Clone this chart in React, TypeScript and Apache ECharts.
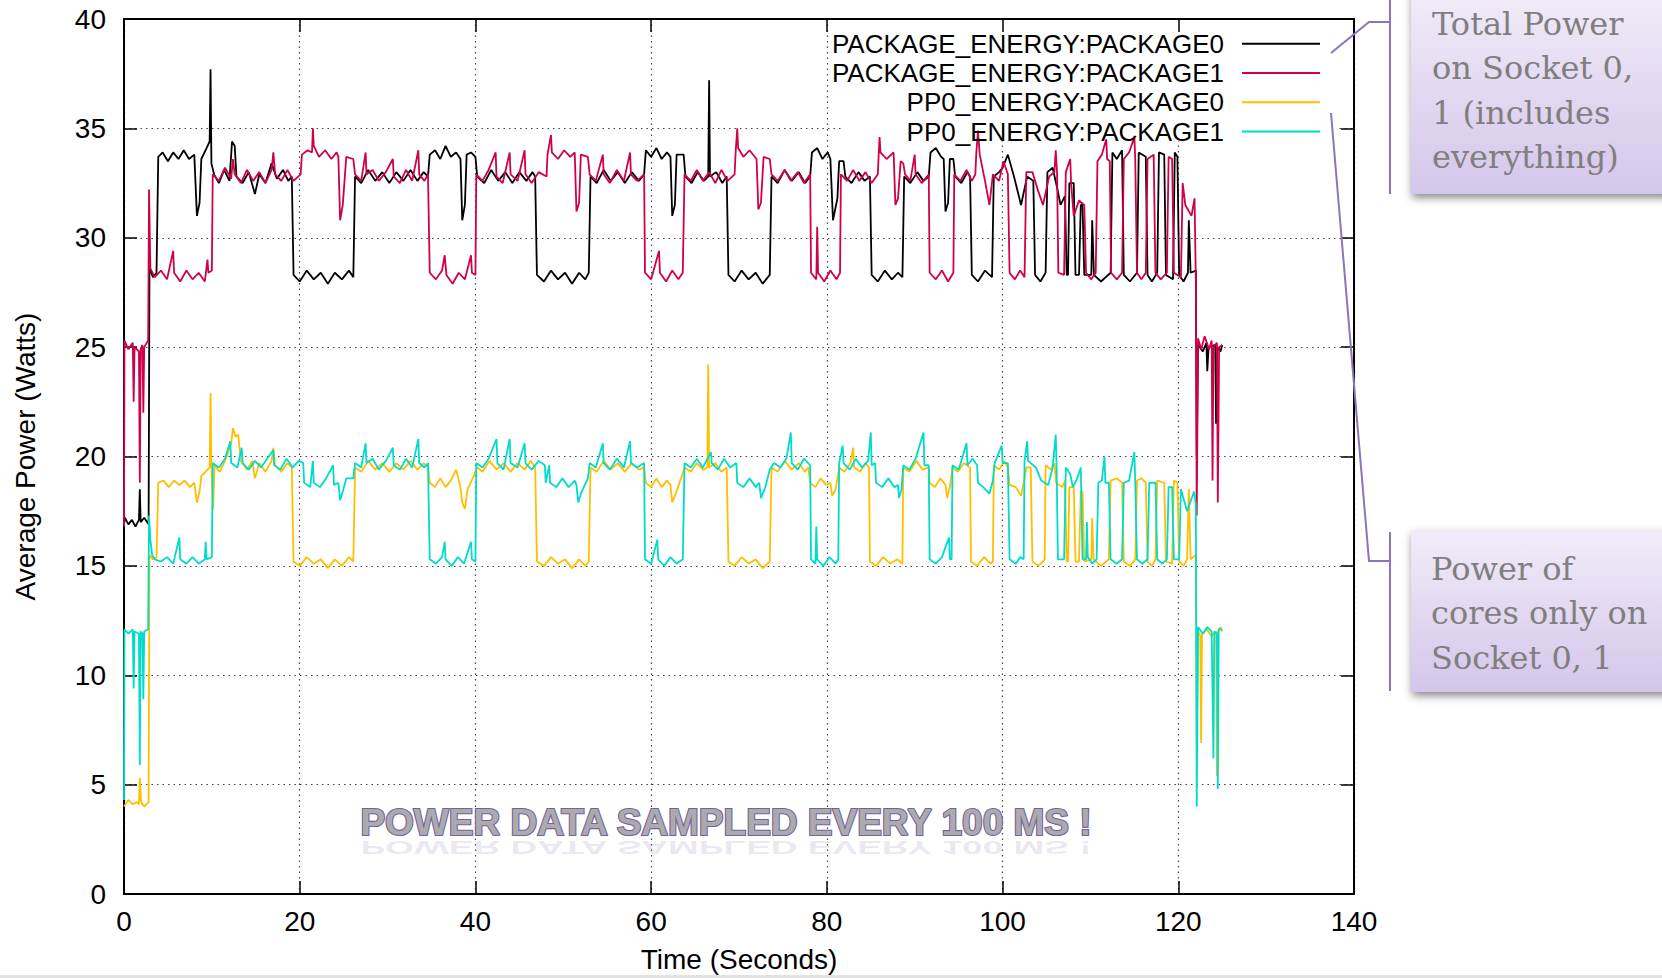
import React, { useEffect, useRef } from "react";
import * as echarts from "echarts";

// ---------------- DATA ----------------
const SERIES_NAMES = [
  "PACKAGE_ENERGY:PACKAGE0",
  "PACKAGE_ENERGY:PACKAGE1",
  "PP0_ENERGY:PACKAGE0",
  "PP0_ENERGY:PACKAGE1",
];
const SERIES_COLORS = ["#000000", "#d0004a", "#ffbf00", "#00dccb"];

const X_AXIS = { min: 0, max: 140, interval: 20 };
const Y_AXIS = { min: 0, max: 40, interval: 5 };

// [time (s), power (W)]
const packageEnergy0: number[][] = [
  [0,16.9],[0.1,17.2],[0.5,16.9],[0.9,17.1],[1.3,16.8],[1.7,17.1],[1.8,18.5],[1.9,17.0],[2.3,17.2],[2.8,16.9],
  [2.9,28.6],[3.3,28.2],[3.7,28.4],
  [3.9,33.7],[4.4,33.9],[5.0,33.5],[5.6,33.9],[6.2,33.6],[6.8,34.0],[7.4,33.6],[8.0,33.8],
  [8.3,31.0],[8.6,31.6],[8.8,33.6],[9.4,34.1],[9.75,34.4],[9.85,37.7],[9.95,33.4],
  [10.25,32.9],[10.8,32.5],[11.4,33.1],[12.0,32.6],[12.3,34.4],[12.6,34.2],[12.8,32.8],[13.5,32.5],[14.2,33.0],[14.9,32.0],[15.4,32.9],[16.1,32.5],[16.8,33.4],[17.4,32.7],[18.1,33.1],[18.7,32.6],[19.1,32.8],
  [19.3,28.3],[20.0,28.0],[20.8,28.5],[21.6,28.1],[22.4,28.4],[23.2,27.9],[24.0,28.4],[24.8,28.1],[25.6,28.5],[26.1,28.2],
  [26.3,32.8],[27.0,32.5],[27.8,33.1],[28.6,32.6],[29.4,33.0],[30.2,32.5],[31.0,33.0],[31.8,32.6],[32.6,33.1],[33.4,32.6],[34.1,33.0],[34.6,32.8],
  [34.8,33.8],[35.4,34.0],[36.0,33.6],[36.6,34.2],[37.2,33.7],[37.8,33.9],[38.3,33.6],
  [38.5,30.8],[38.8,31.5],[39.0,33.8],[39.5,33.9],[40.0,33.7],
  [40.2,32.8],[41.0,32.5],[41.8,33.1],[42.6,32.6],[43.4,33.0],[44.2,32.5],[45.0,33.0],[45.8,32.6],[46.5,33.0],[46.8,32.8],
  [47.0,28.3],[47.8,28.0],[48.6,28.5],[49.4,28.1],[50.2,28.4],[51.0,27.9],[51.8,28.4],[52.5,28.1],[52.9,28.4],
  [53.1,32.8],[53.8,32.5],[54.6,33.1],[55.4,32.6],[56.2,33.0],[57.0,32.5],[57.8,33.0],[58.6,32.6],[59.2,32.9],
  [59.4,34.0],[60.0,33.7],[60.6,34.1],[61.2,33.6],[61.8,33.9],[62.2,33.7],
  [62.4,31.0],[62.7,31.5],[62.9,33.8],[63.7,33.8],
  [63.9,32.8],[64.6,32.5],[65.3,33.0],[66.0,32.6],[66.5,32.8],[66.6,37.2],[66.7,32.8],[67.4,33.0],[68.1,32.5],[68.6,32.8],
  [68.8,28.3],[69.5,28.0],[70.3,28.5],[71.1,28.1],[71.9,28.4],[72.7,27.9],[73.5,28.3],
  [73.7,32.8],[74.4,32.5],[75.2,33.1],[76.0,32.6],[76.8,33.0],[77.5,32.5],[78.1,32.8],
  [78.3,33.9],[78.9,34.1],[79.5,33.6],[80.1,33.9],[80.4,33.6],
  [80.7,30.8],[81.2,31.8],[81.4,33.5],[81.9,33.5],
  [82.1,32.8],[82.8,32.5],[83.6,33.0],[84.3,32.6],[84.9,32.8],
  [85.1,28.3],[85.8,28.0],[86.6,28.5],[87.4,28.1],[88.1,28.4],[88.6,28.2],
  [88.8,32.8],[89.5,32.5],[90.3,33.0],[91.0,32.6],[91.6,32.8],
  [91.8,33.9],[92.4,34.1],[93.0,33.7],[93.3,33.6],
  [93.5,31.2],[93.8,31.6],[94.0,33.6],[94.4,33.6],
  [94.6,32.8],[95.3,32.5],[96.0,33.0],[96.3,32.8],
  [96.5,28.3],[97.2,28.0],[98.0,28.5],[98.8,28.2],
  [99.0,32.8],[99.6,33.0],[100.0,33.2],[100.6,33.8],[101.3,32.8],[102.1,31.5],[102.8,32.8],[103.5,32.6],
  [103.7,28.3],[104.3,28.0],[104.9,28.4],
  [105.1,33.0],[105.7,33.2],[106.2,32.3],[106.6,31.5],[107.1,31.9],
  [107.3,28.3],[107.45,28.3],
  [107.6,32.5],[108.1,32.5],
  [108.3,28.3],[108.7,28.3],
  [108.9,31.5],[109.1,31.5],
  [109.3,28.3],[110.1,28.3],[110.2,30.8],[110.4,28.3],[111.2,28.0],[112.3,28.4],
  [112.5,33.9],[113.0,33.6],[113.6,34.0],
  [113.8,28.3],[114.5,28.0],[115.3,28.4],
  [115.5,33.9],[116.3,33.7],
  [116.5,28.3],[117.0,28.0],[117.6,28.4],
  [117.8,33.9],[118.4,33.8],
  [118.6,28.3],[119.4,28.1],
  [119.6,33.9],[119.9,33.7],
  [120.1,28.3],[120.6,28.0],[121.1,28.4],[121.2,30.8],[121.4,28.4],[122.0,28.5],
  [122.1,20.0],[122.25,25.1],[122.8,24.8],[123.2,25.2],[123.3,23.9],[123.45,25.0],[124.2,25.1],[124.3,21.5],[124.45,25.0],[124.8,24.8],[125.0,25.1],
];

const packageEnergy1: number[][] = [
  [0,16.8],[0.05,25.3],[0.5,24.9],[1.0,25.2],[1.1,22.5],[1.2,25.0],[1.7,24.8],[1.8,18.8],[1.9,24.9],[2.1,25.1],[2.2,22.0],[2.3,25.0],[2.75,25.3],
  [2.85,32.2],[3.0,28.6],[3.5,28.2],[4.2,28.5],[4.9,28.1],[5.6,29.4],[5.7,28.4],[6.4,28.0],[7.1,28.5],[7.8,28.1],[8.5,28.4],[9.2,28.0],[9.5,29.0],[9.6,28.4],[10.0,28.5],
  [10.1,32.9],[10.8,32.6],[11.5,33.2],[12.2,32.7],[12.4,33.6],[12.6,32.9],[13.3,32.5],[14.0,33.1],[14.7,32.6],[15.4,33.0],[16.1,32.5],[16.8,33.1],[17.0,33.9],[17.2,32.9],[17.9,32.6],[18.6,33.1],[19.3,32.6],[20.1,32.9],
  [20.25,33.8],[20.9,34.0],[21.4,33.9],[21.5,35.0],[21.6,34.2],[22.2,33.7],[22.9,34.0],[23.6,33.6],[24.2,33.9],[24.4,33.7],
  [24.6,30.8],[24.9,31.5],[25.3,33.7],[26.1,33.6],
  [26.3,32.9],[27.0,32.6],[27.5,33.9],[27.6,32.9],[28.3,33.1],[29.0,32.6],[29.8,33.0],[30.6,33.6],[30.7,32.8],[31.4,32.5],[32.1,33.1],[32.8,32.6],[33.5,34.0],[33.6,32.9],[34.2,32.6],[34.6,32.9],
  [34.8,28.4],[35.5,28.1],[36.2,28.5],[36.5,29.2],[36.7,28.3],[37.4,27.9],[38.1,28.4],[38.8,28.1],[39.5,29.2],[39.6,28.4],[40.0,28.3],
  [40.1,32.9],[40.8,32.6],[41.5,33.1],[42.3,33.9],[42.4,32.8],[43.1,32.5],[43.9,33.9],[44.0,32.9],[44.8,32.6],[45.6,34.0],[45.7,32.9],[46.4,32.5],[47.2,33.0],[48.1,32.8],
  [48.2,33.8],[48.6,34.7],[48.7,33.9],[49.4,33.6],[50.1,34.0],[50.8,33.7],[51.3,33.9],
  [51.5,31.2],[51.8,31.6],[52.0,33.8],[52.8,33.7],
  [53.0,32.9],[53.7,32.6],[54.5,33.8],[54.6,32.9],[55.3,32.5],[56.1,33.1],[56.9,32.6],[57.6,33.9],[57.7,32.9],[58.4,32.6],[59.2,32.9],
  [59.3,28.4],[60.0,28.1],[60.9,29.4],[61.0,28.4],[61.7,28.0],[62.4,28.5],[63.1,28.1],[63.6,28.4],
  [63.8,32.9],[64.5,32.6],[65.2,33.1],[65.9,32.6],[66.6,33.0],[67.3,32.5],[68.0,33.1],[68.7,32.6],[69.5,32.9],
  [69.6,33.8],[69.8,35.0],[69.9,34.1],[70.5,33.7],[71.2,34.0],[72.0,33.6],
  [72.2,31.3],[72.5,31.6],[72.8,33.7],[73.5,33.6],
  [73.7,32.9],[74.4,32.6],[75.2,33.1],[75.9,32.6],[76.7,33.0],[77.4,32.5],[78.1,32.9],
  [78.2,28.4],[78.8,28.1],[78.9,30.5],[79.0,28.4],[79.7,28.0],[80.4,28.5],[81.1,28.1],[81.5,28.4],
  [81.6,32.9],[82.3,32.6],[83.0,33.1],[83.7,32.6],[84.4,33.0],[85.1,32.5],[85.8,32.9],
  [85.9,33.8],[86.0,34.6],[86.1,33.9],[86.8,33.6],[87.6,33.9],
  [87.8,31.5],[88.1,31.8],[88.4,33.5],[88.7,33.4],
  [88.9,32.9],[89.5,32.6],[90.0,33.8],[90.1,32.9],[90.8,32.5],[91.6,32.9],
  [91.7,28.4],[92.4,28.1],[93.1,28.5],[93.8,28.0],[94.4,28.4],
  [94.5,32.9],[95.2,32.6],[95.9,33.1],[96.5,32.6],[96.9,32.9],
  [97.0,33.8],[97.2,34.9],[97.4,33.8],[98.0,32.6],[98.5,31.5],[98.9,32.9],[99.6,32.6],[100.1,33.5],[100.6,32.9],
  [100.8,28.4],[101.4,28.1],[102.0,28.5],[102.5,28.2],
  [102.7,33.0],[103.4,33.0],[104.0,32.2],[104.6,31.5],[105.3,32.8],[105.9,33.0],[106.05,34.0],[106.2,33.0],
  [106.35,28.4],[107.0,28.3],
  [107.2,33.0],[107.7,33.6],[107.8,32.5],[108.1,31.0],[108.7,31.7],[109.3,31.5],
  [109.5,28.4],[110.1,28.1],[110.6,28.4],
  [110.8,33.5],[111.3,33.8],[111.8,34.5],[111.9,33.6],[112.2,33.5],
  [112.35,28.4],[113.0,28.1],[113.6,28.4],
  [113.8,33.6],[114.4,33.9],[115.0,34.6],[115.1,33.6],
  [115.3,28.4],[115.8,28.1],[116.3,28.4],
  [116.5,33.6],[117.2,33.8],
  [117.4,28.4],[118.0,28.1],[118.7,28.4],
  [118.9,33.7],[119.3,33.6],
  [119.5,28.4],[120.3,28.2],
  [120.5,32.5],[120.8,31.5],[121.5,31.0],[121.85,31.8],[122.0,28.0],
  [122.1,17.3],[122.25,25.4],[122.6,24.9],[123.0,25.5],[123.5,24.9],[123.8,25.3],[123.9,18.9],[124.0,25.0],[124.4,25.2],[124.5,17.9],[124.65,25.0],[125.0,25.1],
];

const pp0Energy0: number[][] = [
  [0,4.0],[0.5,4.3],[1.0,4.1],[1.5,4.2],[1.7,4.1],[1.8,5.3],[1.95,4.2],[2.3,4.0],[2.8,4.2],
  [2.9,15.5],[3.3,15.3],[3.7,15.4],
  [3.9,18.8],[4.5,18.9],[5.1,18.6],[5.7,18.9],[6.3,18.7],[6.9,18.9],[7.5,18.6],[8.0,18.8],
  [8.3,17.9],[8.6,18.4],[8.8,19.1],[9.5,19.4],[9.75,19.5],[9.85,22.9],[9.95,19.5],[10.15,17.6],
  [10.3,19.6],[10.9,19.3],[11.5,19.8],[12.2,20.6],[12.4,21.3],[12.7,20.9],[13.0,21.0],[13.3,19.8],[14.0,19.4],[14.6,19.8],[14.9,19.0],[15.4,19.7],[16.1,19.3],[16.8,19.8],[17.0,20.4],[17.2,19.6],[17.9,19.3],[18.6,19.7],[19.1,19.5],
  [19.3,15.2],[20.0,15.0],[20.8,15.4],[21.6,15.1],[22.4,15.3],[23.2,14.9],[24.0,15.3],[24.8,15.0],[25.6,15.4],[26.1,15.2],
  [26.3,19.5],[27.0,19.3],[27.8,19.8],[28.6,19.4],[29.4,19.7],[30.2,19.3],[31.0,19.7],[31.8,19.4],[32.6,19.8],[33.4,19.4],[34.1,19.7],[34.6,19.5],
  [34.8,18.8],[35.4,18.6],[36.0,19.0],[36.6,18.6],[37.2,18.9],[37.8,19.4],[38.3,18.6],
  [38.5,17.9],[38.8,17.6],[39.1,18.5],[39.8,19.1],[40.2,19.5],
  [40.8,19.3],[41.6,19.8],[42.4,19.4],[43.2,19.7],[44.0,19.3],[44.8,19.7],[45.6,19.4],[46.3,19.8],[46.8,19.5],
  [47.0,15.2],[47.8,15.0],[48.6,15.4],[49.4,15.1],[50.2,15.3],[51.0,14.9],[51.8,15.3],[52.5,15.0],[52.9,15.2],
  [53.1,19.5],[53.8,19.3],[54.6,19.8],[55.4,19.4],[56.2,19.7],[57.0,19.3],[57.8,19.7],[58.6,19.4],[59.2,19.5],
  [59.4,18.8],[60.0,18.6],[60.6,19.0],[61.2,18.6],[61.8,18.9],[62.2,18.7],
  [62.4,17.9],[62.8,18.3],[63.4,19.0],[63.8,19.5],
  [64.5,19.3],[65.2,19.7],[65.9,19.4],[66.4,19.5],[66.5,24.2],[66.6,19.5],[67.3,19.7],[68.0,19.3],[68.6,19.5],
  [68.8,15.2],[69.5,15.0],[70.3,15.4],[71.1,15.1],[71.9,15.3],[72.7,14.9],[73.5,15.2],
  [73.7,19.5],[74.4,19.3],[75.2,19.8],[76.0,19.4],[76.8,19.7],[77.5,19.3],[77.9,19.5],
  [78.1,18.8],[78.7,18.6],[79.3,19.0],[79.9,18.7],[80.4,18.8],
  [80.6,18.2],[81.0,18.5],[81.4,19.5],[82.0,19.3],[82.7,19.7],[83.0,20.4],[83.1,19.5],[83.8,19.3],[84.4,19.7],[84.8,19.5],
  [84.9,15.2],[85.6,15.0],[86.4,15.4],[87.2,15.1],[88.0,15.3],[88.6,15.1],
  [88.7,19.5],[89.4,19.3],[90.2,19.8],[90.9,19.4],[91.6,19.5],
  [91.7,18.8],[92.3,18.6],[92.9,19.0],[93.5,18.7],
  [93.7,18.1],[94.0,18.6],[94.3,19.5],[94.9,19.3],[95.6,19.7],[96.3,19.5],
  [96.4,15.2],[97.1,15.0],[97.9,15.4],[98.6,15.1],[98.9,15.2],
  [99.0,19.6],[99.6,19.4],[100.2,19.8],[100.6,19.5],
  [100.8,18.7],[101.5,18.6],[102.1,18.2],[102.5,19.0],[102.7,19.5],[103.2,19.5],
  [103.4,15.2],[104.1,15.0],[104.8,15.3],
  [104.9,19.6],[105.5,19.4],[105.9,19.7],
  [106.1,18.8],[106.8,18.6],[107.1,18.9],
  [107.3,15.2],[107.45,15.2],
  [107.6,18.6],[108.1,18.6],
  [108.3,15.2],[108.7,15.2],
  [108.9,18.4],[109.1,18.4],
  [109.3,15.2],[110.1,15.3],[110.2,17.2],[110.35,15.3],[111.2,15.0],[112.1,15.3],
  [112.3,18.9],[113.0,19.0],[113.6,18.8],
  [113.8,15.2],[114.5,15.0],[115.1,15.3],
  [115.3,18.9],[115.8,19.0],[116.3,18.8],
  [116.5,15.2],[117.0,15.0],[117.4,15.3],
  [117.6,18.9],[118.4,18.8],
  [118.6,15.2],[119.3,15.1],
  [119.5,18.9],[119.9,18.8],
  [120.1,15.2],[120.6,15.0],[121.0,15.3],[121.2,18.5],[121.4,15.3],[122.0,15.5],
  [122.1,7.0],[122.25,12.0],[122.5,11.8],[122.6,6.9],[122.7,11.9],[123.2,12.1],[123.8,11.8],[124.3,12.0],[124.4,5.4],[124.5,12.0],[124.8,12.2],[125.0,12.0],
];

const pp0Energy1: number[][] = [
  [0,4.3],[0.05,12.1],[0.5,11.9],[1.0,12.1],[1.1,9.4],[1.2,12.0],[1.7,11.9],[1.8,5.9],[1.9,12.0],[2.1,11.9],[2.2,8.9],[2.3,12.0],[2.75,12.1],
  [2.85,17.3],[3.0,16.2],[3.2,15.5],[3.5,15.3],[4.2,15.2],[4.9,15.4],[5.6,15.1],[6.3,16.3],[6.4,15.3],[7.1,15.1],[7.8,15.4],[8.5,15.1],[9.2,15.3],[9.3,16.1],[9.4,15.3],[10.0,15.4],
  [10.1,19.7],[10.8,19.5],[11.5,19.9],[12.1,20.7],[12.2,19.7],[12.9,19.5],[13.4,20.4],[13.5,19.7],[14.2,19.4],[14.9,19.8],[15.6,19.5],[16.3,19.9],[17.0,20.3],[17.1,19.6],[17.8,19.4],[18.5,19.9],[19.2,19.5],[19.9,19.8],[20.4,19.7],
  [20.5,18.8],[21.2,18.6],[21.5,19.8],[21.6,18.8],[22.3,18.6],[23.0,19.0],[23.8,19.6],[23.9,18.7],[24.4,18.8],
  [24.6,18.0],[24.9,18.4],[25.3,19.0],[26.1,19.0],
  [26.3,19.7],[27.0,19.5],[27.5,20.6],[27.6,19.7],[28.3,19.9],[29.0,19.4],[29.8,19.8],[30.6,20.4],[30.7,19.6],[31.4,19.4],[32.1,19.9],[32.8,19.5],[33.5,20.8],[33.6,19.7],[34.2,19.5],[34.6,19.7],
  [34.8,15.3],[35.5,15.1],[36.2,15.4],[36.5,16.1],[36.6,15.3],[37.3,15.0],[38.0,15.4],[38.7,15.1],[39.5,16.1],[39.6,15.3],[40.0,15.2],
  [40.1,19.7],[40.8,19.5],[41.5,19.9],[42.4,20.8],[42.5,19.7],[43.2,19.4],[43.9,20.8],[44.0,19.7],[44.8,19.5],[45.6,20.6],[45.7,19.7],[46.4,19.4],[47.2,19.8],[47.9,19.6],
  [48.0,18.8],[48.4,19.6],[48.5,18.8],[49.2,18.6],[49.9,19.0],[50.6,18.6],[51.3,18.9],[51.5,18.7],
  [51.7,17.9],[52.0,18.3],[52.8,19.0],
  [53.0,19.7],[53.7,19.5],[54.5,20.6],[54.6,19.7],[55.3,19.4],[56.1,19.9],[56.9,19.5],[57.6,20.7],[57.7,19.7],[58.4,19.5],[59.2,19.7],
  [59.3,15.3],[60.0,15.1],[60.7,16.2],[60.8,15.3],[61.5,15.0],[62.2,15.4],[62.9,15.1],[63.6,15.3],
  [63.8,19.7],[64.5,19.5],[65.2,19.9],[65.9,19.5],[66.8,20.2],[66.9,19.7],[67.6,19.4],[68.3,19.9],[69.0,19.5],[69.7,19.7],
  [69.8,18.8],[70.5,18.6],[71.2,19.0],[71.9,18.6],[72.3,18.8],
  [72.5,18.1],[73.0,18.6],[73.5,19.4],[74.0,19.7],[74.7,19.5],[75.4,19.9],[75.9,21.1],[76.0,19.7],[76.7,19.4],[77.4,19.9],[78.1,19.6],
  [78.2,15.3],[78.7,15.1],[78.8,16.8],[78.9,15.3],[79.6,15.0],[80.3,15.4],[81.0,15.1],[81.3,15.3],
  [81.4,19.7],[81.8,20.5],[81.9,19.7],[82.6,19.4],[83.3,19.9],[84.0,19.5],[84.7,19.8],[85.0,21.1],[85.1,19.6],[85.5,19.7],
  [85.6,18.8],[86.3,18.6],[87.0,19.0],[87.7,18.6],[88.1,18.7],
  [88.2,18.1],[88.5,18.5],[88.7,19.6],[89.4,19.4],[90.1,19.9],[91.0,21.1],[91.1,19.6],[91.6,19.6],
  [91.7,15.3],[92.4,15.1],[93.1,15.4],[93.9,16.3],[94.0,15.3],[94.2,15.3],
  [94.3,19.6],[95.0,19.4],[95.9,20.6],[96.0,19.6],[96.6,19.9],[97.1,19.6],
  [97.2,18.8],[97.8,18.6],[98.5,18.3],[98.9,18.9],[99.1,19.7],[99.9,20.5],[100.0,19.7],[100.6,19.7],
  [100.8,15.3],[101.5,15.1],[102.0,15.4],[102.4,15.3],
  [102.5,19.8],[102.8,20.7],[102.9,19.8],[103.8,19.5],[104.4,18.9],[105.2,18.7],[105.7,19.5],[106.05,21.0],[106.15,19.5],
  [106.3,15.3],[107.0,15.3],
  [107.2,19.5],[107.7,19.2],[108.0,18.6],[108.5,19.0],[108.9,19.5],
  [109.1,15.3],[109.5,15.3],[109.6,17.0],[109.7,15.4],[110.2,15.1],[110.7,15.3],
  [110.9,18.8],[111.3,18.9],[111.6,20.0],[111.7,18.8],[112.1,18.8],
  [112.3,15.3],[113.0,15.1],[113.6,15.3],
  [113.8,18.8],[114.4,18.9],[115.0,20.2],[115.1,18.8],
  [115.3,15.3],[115.9,15.1],[116.5,15.3],
  [116.7,18.8],[117.4,18.8],
  [117.6,15.3],[118.2,15.1],[118.7,15.3],
  [118.9,18.6],[119.3,18.6],
  [119.5,15.3],[120.1,15.3],
  [120.3,18.5],[121.0,17.5],[121.8,18.4],[122.0,17.8],
  [122.1,4.0],[122.25,12.2],[122.8,11.9],[123.3,12.2],[123.8,12.0],[124.0,6.2],[124.1,12.0],[124.4,11.9],[124.5,4.8],[124.6,12.1],[125.0,12.1],
];

const SERIES_DATA = [packageEnergy0, packageEnergy1, pp0Energy0, pp0Energy1];

const X_NAME = "Time (Seconds)";
const Y_NAME = "Average Power (Watts)";
const CALLOUT_TOP = "Total Power\non Socket 0,\n1 (includes\neverything)";
const CALLOUT_BOTTOM = "Power of\ncores only on\nSocket 0, 1";
const WATERMARK = "POWER DATA SAMPLED EVERY 100 MS !";

// ---------------- LAYOUT ----------------
const SANS = '"Liberation Sans", Arial, Helvetica, sans-serif';
const SERIF = '"DejaVu Serif", "Liberation Serif", serif';
const FONT_SIZE = 28;
const LEGEND_FONT_SIZE = 26;
const LEGEND_ROWS = [42.7, 72.0, 101.3, 130.6];
const CALLOUT_PURPLE = "#8b74b9";

function boxFill() {
  return new echarts.graphic.LinearGradient(0, 0, 0, 1, [
    { offset: 0, color: "#f1ecf9" },
    { offset: 1, color: "#d4c6ea" },
  ]);
}

function buildOption(): any {
  const mirrorAxisCommon = {
    type: "value",
    axisLine: { show: true, onZero: false, lineStyle: { color: "#000", width: 2 } },
    axisTick: { show: true, inside: true, length: 13, lineStyle: { color: "#000", width: 1.5 } },
    axisLabel: { show: false },
    splitLine: { show: false },
    z: 3,
  };
  const gridLine = { show: true, lineStyle: { color: "#444", width: 1.2, type: [1.5, 4] } };
  const labelStyle = { fontSize: FONT_SIZE, fontFamily: SANS, color: "#000" };

  return {
    animation: false,
    backgroundColor: "#ffffff",
    grid: { left: 124, right: 308, top: 19, bottom: 84, containLabel: false },
    xAxis: [
      {
        type: "value",
        min: X_AXIS.min,
        max: X_AXIS.max,
        interval: X_AXIS.interval,
        position: "bottom",
        name: X_NAME,
        nameLocation: "middle",
        nameGap: 51,
        nameTextStyle: labelStyle,
        axisLine: { show: true, onZero: false, lineStyle: { color: "#000", width: 2 } },
        axisTick: { show: true, inside: true, length: 13, lineStyle: { color: "#000", width: 1.5 } },
        axisLabel: { show: true, margin: 13, ...labelStyle },
        splitLine: gridLine,
      },
      { ...mirrorAxisCommon, min: X_AXIS.min, max: X_AXIS.max, interval: X_AXIS.interval, position: "top" },
    ],
    yAxis: [
      {
        type: "value",
        min: Y_AXIS.min,
        max: Y_AXIS.max,
        interval: Y_AXIS.interval,
        position: "left",
        name: Y_NAME,
        nameLocation: "middle",
        nameGap: 85,
        nameTextStyle: labelStyle,
        axisLine: { show: true, onZero: false, lineStyle: { color: "#000", width: 2 } },
        axisTick: { show: true, inside: true, length: 13, lineStyle: { color: "#000", width: 1.5 } },
        axisLabel: { show: true, margin: 18, ...labelStyle },
        splitLine: gridLine,
      },
      { ...mirrorAxisCommon, min: Y_AXIS.min, max: Y_AXIS.max, interval: Y_AXIS.interval, position: "right" },
    ],
    legend: SERIES_NAMES.map((name, i) => ({
      data: [name],
      orient: "horizontal",
      align: "right",
      right: 342,
      top: LEGEND_ROWS[i] - 12,
      icon: "rect",
      itemWidth: 78,
      itemHeight: 2,
      padding: 0,
      itemGap: 0,
      selectedMode: false,
      textStyle: { fontSize: LEGEND_FONT_SIZE, fontFamily: SANS, color: "#000", lineHeight: 24, padding: [0, 13, 0, 0] },
    })),
    series: SERIES_NAMES.map((name, i) => ({
      name,
      type: "line",
      xAxisIndex: 0,
      yAxisIndex: 0,
      data: SERIES_DATA[i],
      symbol: "none",
      showSymbol: false,
      color: SERIES_COLORS[i],
      lineStyle: { color: SERIES_COLORS[i], width: 1.8 },
      z: 2 + i * 0.01,
      clip: true,
    })),
    graphic: [
      // opaque legend key box
      { type: "rect", z: 1, silent: true, shape: { x: 842, y: 21, width: 495, height: 120 }, style: { fill: "#ffffff" } },
      // callout 1
      { type: "line", z: 10, silent: true, shape: { x1: 1390, y1: 0, x2: 1390, y2: 194 }, style: { stroke: CALLOUT_PURPLE, lineWidth: 2 } },
      { type: "polyline", z: 10, silent: true, shape: { points: [[1331, 53], [1369, 22], [1390, 22]] }, style: { stroke: CALLOUT_PURPLE, lineWidth: 2, fill: null } },
      {
        type: "rect", z: 9, silent: true,
        shape: { x: 1411, y: -12, width: 262, height: 206 },
        style: { fill: boxFill(), shadowBlur: 9, shadowColor: "rgba(0,0,0,0.45)", shadowOffsetX: 1, shadowOffsetY: 4 },
      },
      {
        type: "text", z: 11, silent: true, x: 1432, y: 2,
        style: { text: CALLOUT_TOP, fontSize: 32, lineHeight: 44.3, fontFamily: SERIF, fill: "#7f7f7f", align: "left", verticalAlign: "top" },
      },
      // callout 2
      { type: "line", z: 10, silent: true, shape: { x1: 1390, y1: 532, x2: 1390, y2: 691 }, style: { stroke: CALLOUT_PURPLE, lineWidth: 2 } },
      { type: "polyline", z: 10, silent: true, shape: { points: [[1331, 113], [1369, 561], [1390, 561]] }, style: { stroke: CALLOUT_PURPLE, lineWidth: 2, fill: null } },
      {
        type: "rect", z: 9, silent: true,
        shape: { x: 1411, y: 530, width: 262, height: 162 },
        style: { fill: boxFill(), shadowBlur: 9, shadowColor: "rgba(0,0,0,0.45)", shadowOffsetX: 1, shadowOffsetY: 4 },
      },
      {
        type: "text", z: 11, silent: true, x: 1431, y: 547,
        style: { text: CALLOUT_BOTTOM, fontSize: 32, lineHeight: 44.3, fontFamily: SERIF, fill: "#7f7f7f", align: "left", verticalAlign: "top" },
      },
      // watermark reflection (squashed, faint)
      {
        type: "text", z: 12, silent: true, x: 726, y: 847, scaleY: -0.5,
        style: {
          text: WATERMARK, fontSize: 37, fontWeight: "bold", fontFamily: SANS,
          fill: "rgba(130,110,175,0.16)",
          align: "center", verticalAlign: "middle",
        },
      },
      // watermark
      {
        type: "text", z: 12, silent: true, x: 726, y: 822,
        style: {
          text: WATERMARK, fontSize: 37, fontWeight: "bold", fontFamily: SANS,
          fill: "#ababab", stroke: "#7660a4", lineWidth: 2.2,
          align: "center", verticalAlign: "middle",
        },
      },
      // bottom strip
      { type: "rect", z: 1, silent: true, shape: { x: 0, y: 975, width: 1662, height: 3 }, style: { fill: "#e2e2e2" } },
    ],
  };
}

export default function App() {
  const ref = useRef<HTMLDivElement>(null);
  useEffect(() => {
    if (!ref.current) return;
    const chart = echarts.init(ref.current, null, { renderer: "svg" });
    chart.setOption(buildOption());
    return () => {
      chart.dispose();
    };
  }, []);
  return (
    <div
      ref={ref}
      style={{ position: "fixed", left: 0, top: 0, width: 1662, height: 978, background: "#ffffff" }}
    />
  );
}
